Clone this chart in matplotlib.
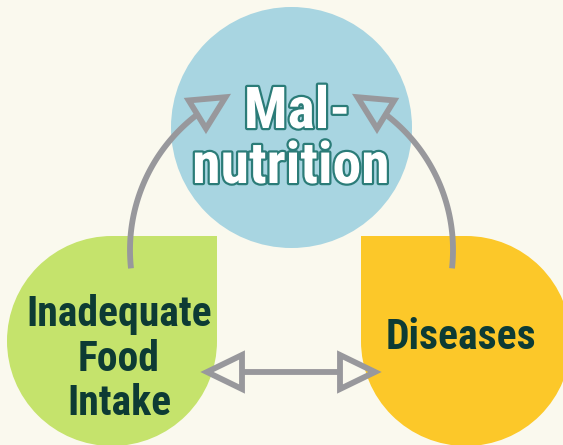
"""Malnutrition cycle diagram: food intake, diseases and malnutrition."""

import numpy as np
import matplotlib.pyplot as plt
from matplotlib.patches import Circle, Rectangle, Polygon
import matplotlib.patheffects as pe

W, H = 563, 445

BG = "#FAF9EE"
ARROW = "#98989C"
DARK = "#0D3B34"
TEAL = "#2B7C78"
LW = 4.2

# nodes: label lines, colour, centre (px), radius, squared corner
node_lines = [["Mal-", "nutrition"], ["Inadequate", "Food", "Intake"], ["Diseases"]]
node_colors = ["#A8D5E1", "#C5E36C", "#FCC829"]
node_centers = [(291.5, 127.5), (112, 341), (466, 341)]
node_radius = [120.5, 105, 105]
node_corner = [None, "top-right", "top-left"]
line_baselines = [[128, 183], [326, 371, 415], [349]]
line_x = [[297, 291], [119, 119, 119], [461]]


def arc_points(cx, cy, r, t0, t1, n=80):
    t = np.radians(np.linspace(t0, t1, n))
    return cx + r * np.cos(t), cy + r * np.sin(t)


def hollow_head(ax, tip, direction, length=33, half=16.5):
    d = np.asarray(direction, float)
    d /= np.hypot(*d)
    n = np.array([-d[1], d[0]])
    tip = np.asarray(tip, float)
    base = tip - d * length
    pts = [tip, base + n * half, base - n * half]
    ax.add_patch(Polygon(pts, closed=True, fill=False, edgecolor=ARROW,
                         linewidth=LW, joinstyle="miter", zorder=5))
    return base


fig = plt.figure(figsize=(W / 100, H / 100), dpi=100, facecolor=BG)
ax = fig.add_axes([0, 0, 1, 1])
ax.set_xlim(0, W)
ax.set_ylim(H, 0)
ax.set_aspect("equal")
ax.axis("off")

for (cx, cy), r, col, corner in zip(node_centers, node_radius, node_colors, node_corner):
    ax.add_patch(Circle((cx, cy), r, facecolor=col, edgecolor="none", zorder=1))
    if corner == "top-right":
        ax.add_patch(Rectangle((cx, cy - r), r, r, facecolor=col, edgecolor="none", zorder=1))
    elif corner == "top-left":
        ax.add_patch(Rectangle((cx - r, cy - r), r, r, facecolor=col, edgecolor="none", zorder=1))

# curved arrows (arc centre, radius, start/end angle in screen degrees)
arcs = [((300, 250), 170, 173.8, 244.0), ((283, 250), 170, 6.2, -64.0)]
for (cx, cy), r, t0, t1 in arcs:
    head_len = 33
    dt = np.degrees(head_len / r) * np.sign(t1 - t0)
    xs, ys = arc_points(cx, cy, r, t0, t1 - dt)
    tip = (cx + r * np.cos(np.radians(t1)), cy + r * np.sin(np.radians(t1)))
    ax.plot(xs, ys, color=ARROW, linewidth=LW, solid_capstyle="butt", zorder=4)
    hollow_head(ax, tip, (tip[0] - xs[-1], tip[1] - ys[-1]), length=head_len)

# double arrow between the two lower nodes
y_h = 372
left_tip, right_tip = 207, 375
b1 = hollow_head(ax, (left_tip, y_h), (-1, 0), length=35, half=17)
b2 = hollow_head(ax, (right_tip, y_h), (1, 0), length=35, half=17)
ax.plot([b1[0], b2[0]], [y_h, y_h], color=ARROW, linewidth=LW,
        solid_capstyle="butt", zorder=4)

font = ["Roboto Condensed", "DejaVu Sans"]
for i, lines in enumerate(node_lines):
    for line, x, yb in zip(lines, line_x[i], line_baselines[i]):
        if i == 0:
            ax.text(x, yb, line, ha="center", va="baseline", family=font,
                    fontweight="bold", fontsize=41.5, color="white", zorder=6,
                    path_effects=[pe.withStroke(linewidth=3.2, foreground=TEAL)])
        else:
            ax.text(x, yb, line, ha="center", va="baseline", family=font,
                    fontweight="bold", fontsize=30, color=DARK, zorder=6)

fig.savefig("out.png", dpi=100, facecolor=BG)
